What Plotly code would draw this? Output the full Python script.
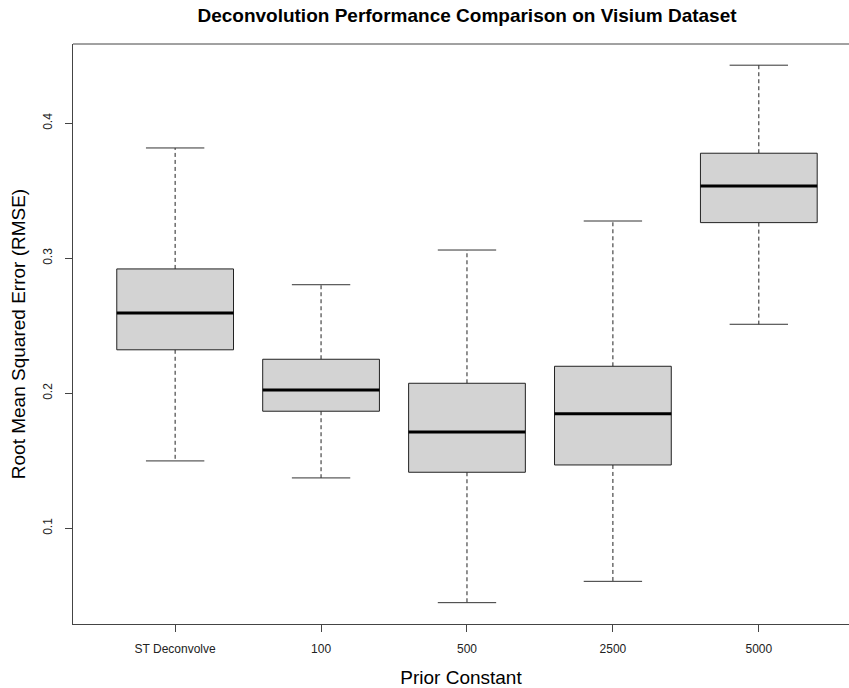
import plotly.graph_objects as go

# ---- data ----
categories = ["ST Deconvolve", "100", "500", "2500", "5000"]
upper_whisker = [0.3817, 0.2804, 0.3061, 0.3276, 0.4430]
q3_values = [0.2921, 0.2252, 0.2074, 0.2200, 0.3778]
median_values = [0.2595, 0.2024, 0.1713, 0.1849, 0.3536]
q1_values = [0.2322, 0.1867, 0.1415, 0.1469, 0.3264]
lower_whisker = [0.1499, 0.1373, 0.0449, 0.0607, 0.2511]
y_ticks = [0.1, 0.2, 0.3, 0.4]

positions = list(range(1, len(categories) + 1))
half_box = 0.4
half_staple = 0.2
FONT = "Liberation Sans, Arial, sans-serif"

box_x, box_y = [], []
med_x, med_y = [], []
wh_x, wh_y = [], []
st_x, st_y = [], []
for p, lo, a, m, b, hi in zip(positions, lower_whisker, q1_values, median_values, q3_values, upper_whisker):
    box_x += [p - half_box, p + half_box, p + half_box, p - half_box, p - half_box, None]
    box_y += [a, a, b, b, a, None]
    med_x += [p - half_box, p + half_box, None]
    med_y += [m, m, None]
    wh_x += [p, p, None, p, p, None]
    wh_y += [b, hi, None, a, lo, None]
    st_x += [p - half_staple, p + half_staple, None, p - half_staple, p + half_staple, None]
    st_y += [hi, hi, None, lo, lo, None]

fig = go.Figure()
fig.add_trace(go.Scatter(x=wh_x, y=wh_y, mode="lines",
                         line=dict(color="#222222", width=1, dash="4px,3px"),
                         hoverinfo="skip", showlegend=False))
fig.add_trace(go.Scatter(x=st_x, y=st_y, mode="lines",
                         line=dict(color="#333333", width=1),
                         hoverinfo="skip", showlegend=False))
fig.add_trace(go.Scatter(x=box_x, y=box_y, mode="lines", fill="toself",
                         fillcolor="#D3D3D3",
                         line=dict(color="#222222", width=1),
                         hoverinfo="skip", showlegend=False))
fig.add_trace(go.Scatter(x=med_x, y=med_y, mode="lines",
                         line=dict(color="#000000", width=3),
                         hoverinfo="skip", showlegend=False))

fig.update_layout(
    width=849, height=688,
    margin=dict(l=73, r=0, t=44, b=64),
    paper_bgcolor="white", plot_bgcolor="white",
    font=dict(family=FONT, color="#111111"),
    title=dict(text="<b>Deconvolution Performance Comparison on Visium Dataset</b>",
               x=(73 + 861) / 2 / 849, xanchor="center", y=1 - 15 / 688, yanchor="middle",
               font=dict(size=19, family=FONT, color="#000000")),
    showlegend=False,
)
fig.update_xaxes(
    range=[0.3, 5.618], tickmode="array", tickvals=positions, ticktext=categories,
    showgrid=False, zeroline=False, showline=True, linecolor="#444444", linewidth=1,
    ticks="outside", ticklen=7, tickcolor="#444444", tickwidth=1,
    tickfont=dict(size=12, family=FONT, color="#222222"), ticklabelstandoff=7,
    title=dict(text="Prior Constant", font=dict(size=19, family=FONT, color="#000000"), standoff=15),
)
fig.update_yaxes(
    range=[0.0291, 0.4587], tickmode="array", tickvals=y_ticks,
    ticktext=[str(t) for t in y_ticks], tickangle=-90,
    showgrid=False, zeroline=False, showline=True, linecolor="#444444", linewidth=1,
    ticks="outside", ticklen=7, tickcolor="#444444", tickwidth=1,
    tickfont=dict(size=12, family=FONT, color="#222222"), ticklabelstandoff=8,
    title=dict(text="Root Mean Squared Error (RMSE)", font=dict(size=19, family=FONT, color="#000000"), standoff=10),
)
fig.add_shape(type="line", xref="paper", yref="paper", x0=0, x1=1, y0=1, y1=1,
              line=dict(color="#444444", width=1))

fig.write_html("out.html")
